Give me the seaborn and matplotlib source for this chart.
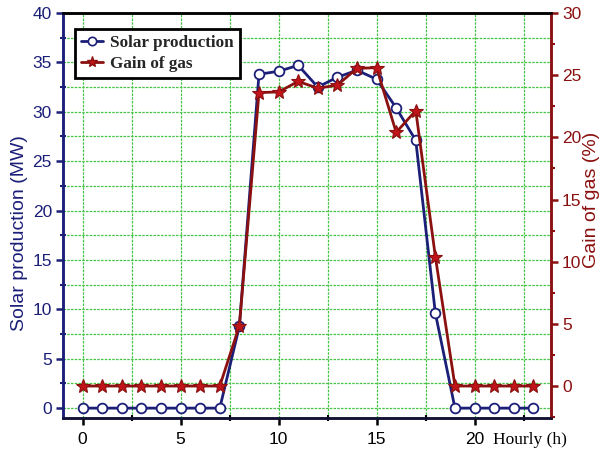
import matplotlib
matplotlib.use("Agg")
import matplotlib.pyplot as plt
import seaborn as sns
import numpy as np
import pandas as pd
from matplotlib.ticker import MultipleLocator
from matplotlib.lines import Line2D

hours = list(range(24))
solar_mw = [0, 0, 0, 0, 0, 0, 0, 0, 8.3, 33.8, 34.1, 34.7, 32.5, 33.5, 34.2, 33.3,
            30.4, 27.1, 9.6, 0, 0, 0, 0, 0]
gas_gain = [0, 0, 0, 0, 0, 0, 0, 0, 4.85, 23.6, 23.65, 24.5, 23.95, 24.2, 25.55, 25.6,
            20.4, 22.15, 10.4, 0, 0, 0, 0, 0]

df = pd.DataFrame({"hour": hours, "solar": solar_mw, "gas": gas_gain})

sns.set_theme(style="white")
plt.rcParams['font.family'] = ['Liberation Sans', 'DejaVu Sans']

navy = "#1c1f78"
dred = "#8b1010"
grid_green = "#45c445"

fig = plt.figure(figsize=(6.01, 4.53), dpi=100)
ax = fig.add_axes([63/601, 1-418/453, (551-63)/601, (418-13)/453])
ax2 = ax.twinx()

ax.set_xlim(-1, 23.9)
ax.set_ylim(-1.0, 40)
ax2.set_ylim(-2.57, 30)

ax.xaxis.set_major_locator(MultipleLocator(5))
ax.xaxis.set_minor_locator(MultipleLocator(2.5))
ax.yaxis.set_major_locator(MultipleLocator(5))
ax.yaxis.set_minor_locator(MultipleLocator(2.5))
ax2.yaxis.set_major_locator(MultipleLocator(5))
ax2.yaxis.set_minor_locator(MultipleLocator(2.5))
ax.grid(True, which="both", color=grid_green, linestyle=(0, (2, 1)), linewidth=0.9)
ax2.grid(False)
ax.set_axisbelow(True)

sns.lineplot(data=df, x="hour", y="solar", ax=ax, color=navy, linewidth=2,
             marker="o", markersize=7, markerfacecolor="white",
             markeredgecolor=navy, markeredgewidth=1.3, legend=False, zorder=3)
sns.lineplot(data=df, x="hour", y="gas", ax=ax2, color=dred, linewidth=2,
             marker="*", markersize=10, markerfacecolor="#c0141a",
             markeredgecolor=dred, markeredgewidth=0.8, legend=False, zorder=3)

ax.set_yticks([0, 5, 10, 15, 20, 25, 30, 35, 40])
ax2.set_yticks([0, 5, 10, 15, 20, 25, 30])

for a in (ax, ax2):
    for s in ["left", "right", "top", "bottom"]:
        a.spines[s].set_linewidth(1.8)
    a.spines["left"].set_color(navy)
    a.spines["bottom"].set_color("#111133")
    a.spines["top"].set_color("black")
    a.spines["right"].set_color(dred)

tls = 12.5
ax.tick_params(axis="y", which="major", direction="out", length=5, width=1.8,
               colors=navy, labelsize=tls, labelcolor=navy, left=True, pad=3)
ax.tick_params(axis="y", which="minor", direction="inout", length=4, width=1.5,
               colors=navy, left=True)
ax.tick_params(axis="x", which="major", direction="out", length=5, width=1.8,
               colors="black", labelsize=tls, top=False, bottom=True, pad=5)
ax.tick_params(axis="x", which="minor", direction="inout", length=4, width=1.5,
               colors="black", bottom=True, top=False)
ax2.tick_params(axis="y", which="major", direction="out", length=5, width=1.8,
                colors=dred, labelsize=tls, labelcolor=dred, right=True, pad=3)
ax2.tick_params(axis="y", which="minor", direction="out", length=3, width=1.5,
                colors=dred, right=True)
ax2.xaxis.set_major_locator(MultipleLocator(5))
ax2.xaxis.set_minor_locator(MultipleLocator(2.5))
ax2.tick_params(axis="x", which="major", direction="in", length=5, width=1.8,
                colors="black", top=True, bottom=False, labeltop=False, labelbottom=False)
ax2.tick_params(axis="x", which="minor", direction="in", length=3, width=1.2,
                colors="black", top=True, bottom=False)

ax.set_xlabel("")
ax2.set_xlabel("")
ax.set_ylabel("Solar production (MW)", color=navy, fontsize=14)
ax2.set_ylabel("Gain of gas (%)", color=dred, fontsize=14)
ax.yaxis.set_label_coords((28-63)/488, (418-233)/405)
ax2.yaxis.set_label_coords((583-63)/488, (418-200)/405)

fig.text(493/601, 1-440/453, "Hourly (h)", fontsize=12.5, family=["Liberation Serif"],
         color="black", va="center", ha="left")

handles = [
    Line2D([], [], color=navy, linewidth=2, marker="o", markersize=6,
           markerfacecolor="white", markeredgecolor=navy, markeredgewidth=1.2),
    Line2D([], [], color=dred, linewidth=2, marker="*", markersize=8,
           markerfacecolor="#c0141a", markeredgecolor=dred),
]
leg = ax2.legend(handles, ["Solar production", "Gain of gas"], loc="upper left",
                 bbox_to_anchor=((75-63)/488, (418-29)/405), borderaxespad=0,
                 prop={"family": "Liberation Serif", "weight": "bold", "size": 12.3},
                 frameon=True, fancybox=False, edgecolor="black", handlelength=1.3,
                 borderpad=0.35, labelspacing=0.3, handletextpad=0.4)
leg.get_frame().set_linewidth(2)
leg.get_frame().set_alpha(1)
leg.set_zorder(10)

fig.savefig("out.png", dpi=100)
